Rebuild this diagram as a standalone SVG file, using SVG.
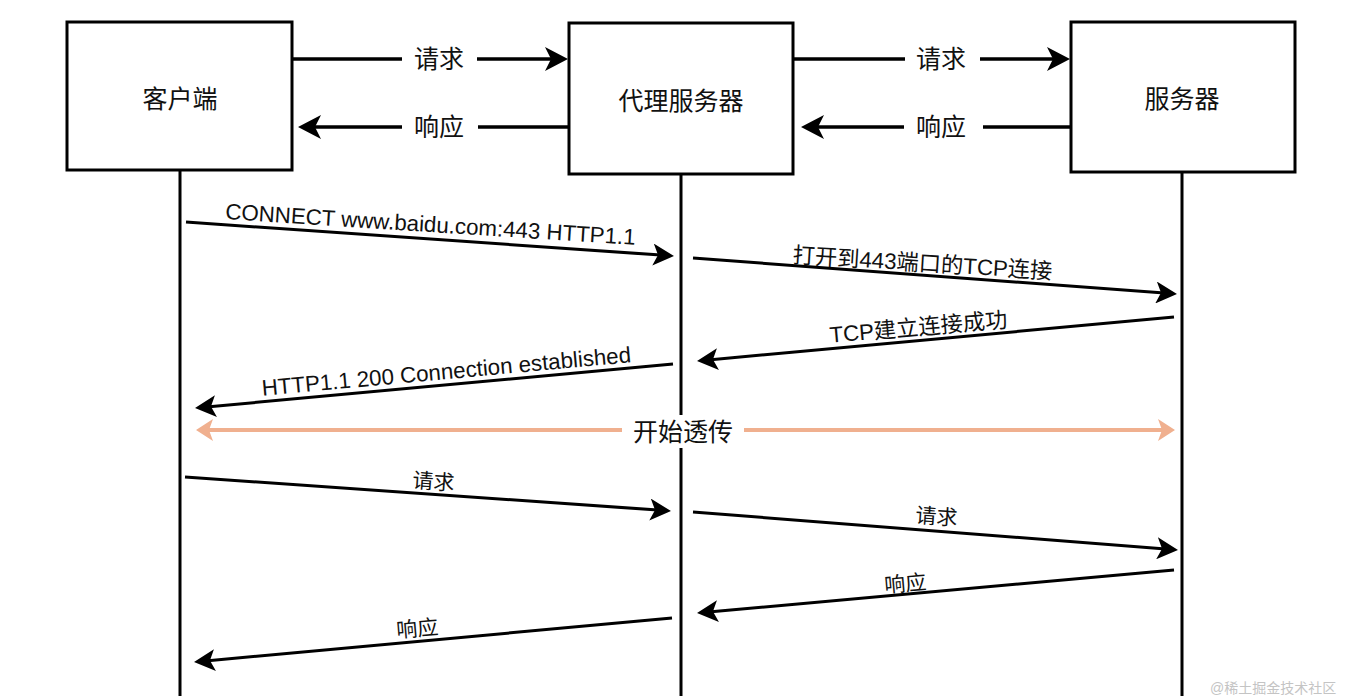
<svg xmlns="http://www.w3.org/2000/svg" width="1352" height="696" viewBox="0 0 1352 696">
  <style>
    .box { fill: #ffffff; stroke: #000000; stroke-width: 3; }
    .life { stroke: #000000; stroke-width: 3; fill: none; }
    .msg { stroke: #000000; stroke-width: 3; fill: none; }
    .msg-top { stroke: #000000; stroke-width: 3.5; fill: none; }
    .pass { stroke: #f0b08f; stroke-width: 4; fill: none; }
    text { font-family: "Liberation Sans", "Noto Sans CJK SC", sans-serif; fill: #111111; }
    .title { font-size: 25px; text-anchor: middle; }
    .lbl-top { font-size: 25px; text-anchor: middle; }
    .lbl { font-size: 22.3px; text-anchor: middle; }
    .lbl-cn { font-size: 21px; text-anchor: middle; }
    .mark { font-size: 14px; fill: #c4c4c4; }
  </style>
  <defs>
    <marker id="headTop" markerUnits="userSpaceOnUse" markerWidth="24" markerHeight="24" viewBox="0 0 24 24" refX="17" refY="12" orient="auto">
      <path d="M0,0 L23,12 L0,24 L6,12 Z" fill="#000000"/>
    </marker>
    <marker id="head" markerUnits="userSpaceOnUse" markerWidth="22" markerHeight="22" viewBox="0 0 22 22" refX="15" refY="11" orient="auto">
      <path d="M0,0 L21,11 L0,22 L5,11 Z" fill="#000000"/>
    </marker>
    <marker id="headPass" markerUnits="userSpaceOnUse" markerWidth="18" markerHeight="22" viewBox="0 0 18 22" refX="12" refY="11" orient="auto-start-reverse">
      <path d="M0,0 L17,11 L0,22 L4,11 Z" fill="#f0b08f"/>
    </marker>
  </defs>

  <!-- lifelines -->
  <g id="lifelines">
    <line class="life" x1="180" y1="170" x2="180" y2="700"/>
    <line class="life" x1="681" y1="174" x2="681" y2="700"/>
    <line class="life" x1="1182" y1="172" x2="1182" y2="700"/>
  </g>

  <!-- participants -->
  <g id="client">
    <rect class="box" x="67" y="22" width="225" height="148"/>
    <text class="title" x="180" y="108">客户端</text>
  </g>
  <g id="proxy">
    <rect class="box" x="569" y="23" width="224" height="151"/>
    <text class="title" x="681" y="110">代理服务器</text>
  </g>
  <g id="server">
    <rect class="box" x="1071" y="22" width="224" height="150"/>
    <text class="title" x="1182" y="108">服务器</text>
  </g>

  <g id="connectors">
    <!-- overview: client <-> proxy <-> server -->
    <line class="msg-top" x1="292" y1="59" x2="402" y2="59"/>
    <line class="msg-top" x1="477" y1="59" x2="562" y2="59" marker-end="url(#headTop)"/>
    <text class="lbl-top" x="439" y="68">请求</text>
    <line class="msg-top" x1="569" y1="127" x2="478" y2="127"/>
    <line class="msg-top" x1="402" y1="127" x2="304" y2="127" marker-end="url(#headTop)"/>
    <text class="lbl-top" x="439" y="136">响应</text>

    <line class="msg-top" x1="793" y1="59" x2="905" y2="59"/>
    <line class="msg-top" x1="980" y1="59" x2="1064" y2="59" marker-end="url(#headTop)"/>
    <text class="lbl-top" x="941" y="68">请求</text>
    <line class="msg-top" x1="1071" y1="127" x2="983" y2="127"/>
    <line class="msg-top" x1="904" y1="127" x2="807" y2="127" marker-end="url(#headTop)"/>
    <text class="lbl-top" x="941" y="136">响应</text>

    <!-- tunnel setup -->
    <line class="msg" x1="186" y1="222" x2="668" y2="255.6" marker-end="url(#head)"/>
    <text class="lbl" transform="translate(430,232) rotate(3.6)">CONNECT www.baidu.com:443 HTTP1.1</text>

    <line class="msg" x1="693" y1="258" x2="1171" y2="293.6" marker-end="url(#head)"/>
    <text class="lbl" transform="translate(922,271) rotate(3.6)">打开到443端口的TCP连接</text>

    <line class="msg" x1="1174" y1="317" x2="703" y2="360.5" marker-end="url(#head)"/>
    <text class="lbl" transform="translate(919,335) rotate(-5)">TCP建立连接成功</text>

    <line class="msg" x1="673" y1="364" x2="201" y2="407.5" marker-end="url(#head)"/>
    <text class="lbl" transform="translate(447,379) rotate(-5.2)">HTTP1.1 200 Connection established</text>

    <!-- pass-through -->
    <line class="pass" x1="201" y1="430" x2="1170" y2="430" marker-start="url(#headPass)" marker-end="url(#headPass)"/>
    <rect x="622" y="415" width="122" height="33" fill="#ffffff"/>
    <text class="title" x="683" y="441">开始透传</text>

    <!-- relayed traffic -->
    <line class="msg" x1="185" y1="477" x2="665" y2="510.6" marker-end="url(#head)"/>
    <text class="lbl-cn" transform="translate(433,489) rotate(4)">请求</text>

    <line class="msg" x1="693" y1="512" x2="1172" y2="549.5" marker-end="url(#head)"/>
    <text class="lbl-cn" transform="translate(936,524) rotate(4)">请求</text>

    <line class="msg" x1="1174" y1="570" x2="703" y2="612.5" marker-end="url(#head)"/>
    <text class="lbl-cn" transform="translate(906,591) rotate(-5)">响应</text>

    <line class="msg" x1="672" y1="618" x2="200" y2="661.5" marker-end="url(#head)"/>
    <text class="lbl-cn" transform="translate(418,636) rotate(-5)">响应</text>
  </g>

  <text class="mark" x="1210" y="693">@稀土掘金技术社区</text>
</svg>
